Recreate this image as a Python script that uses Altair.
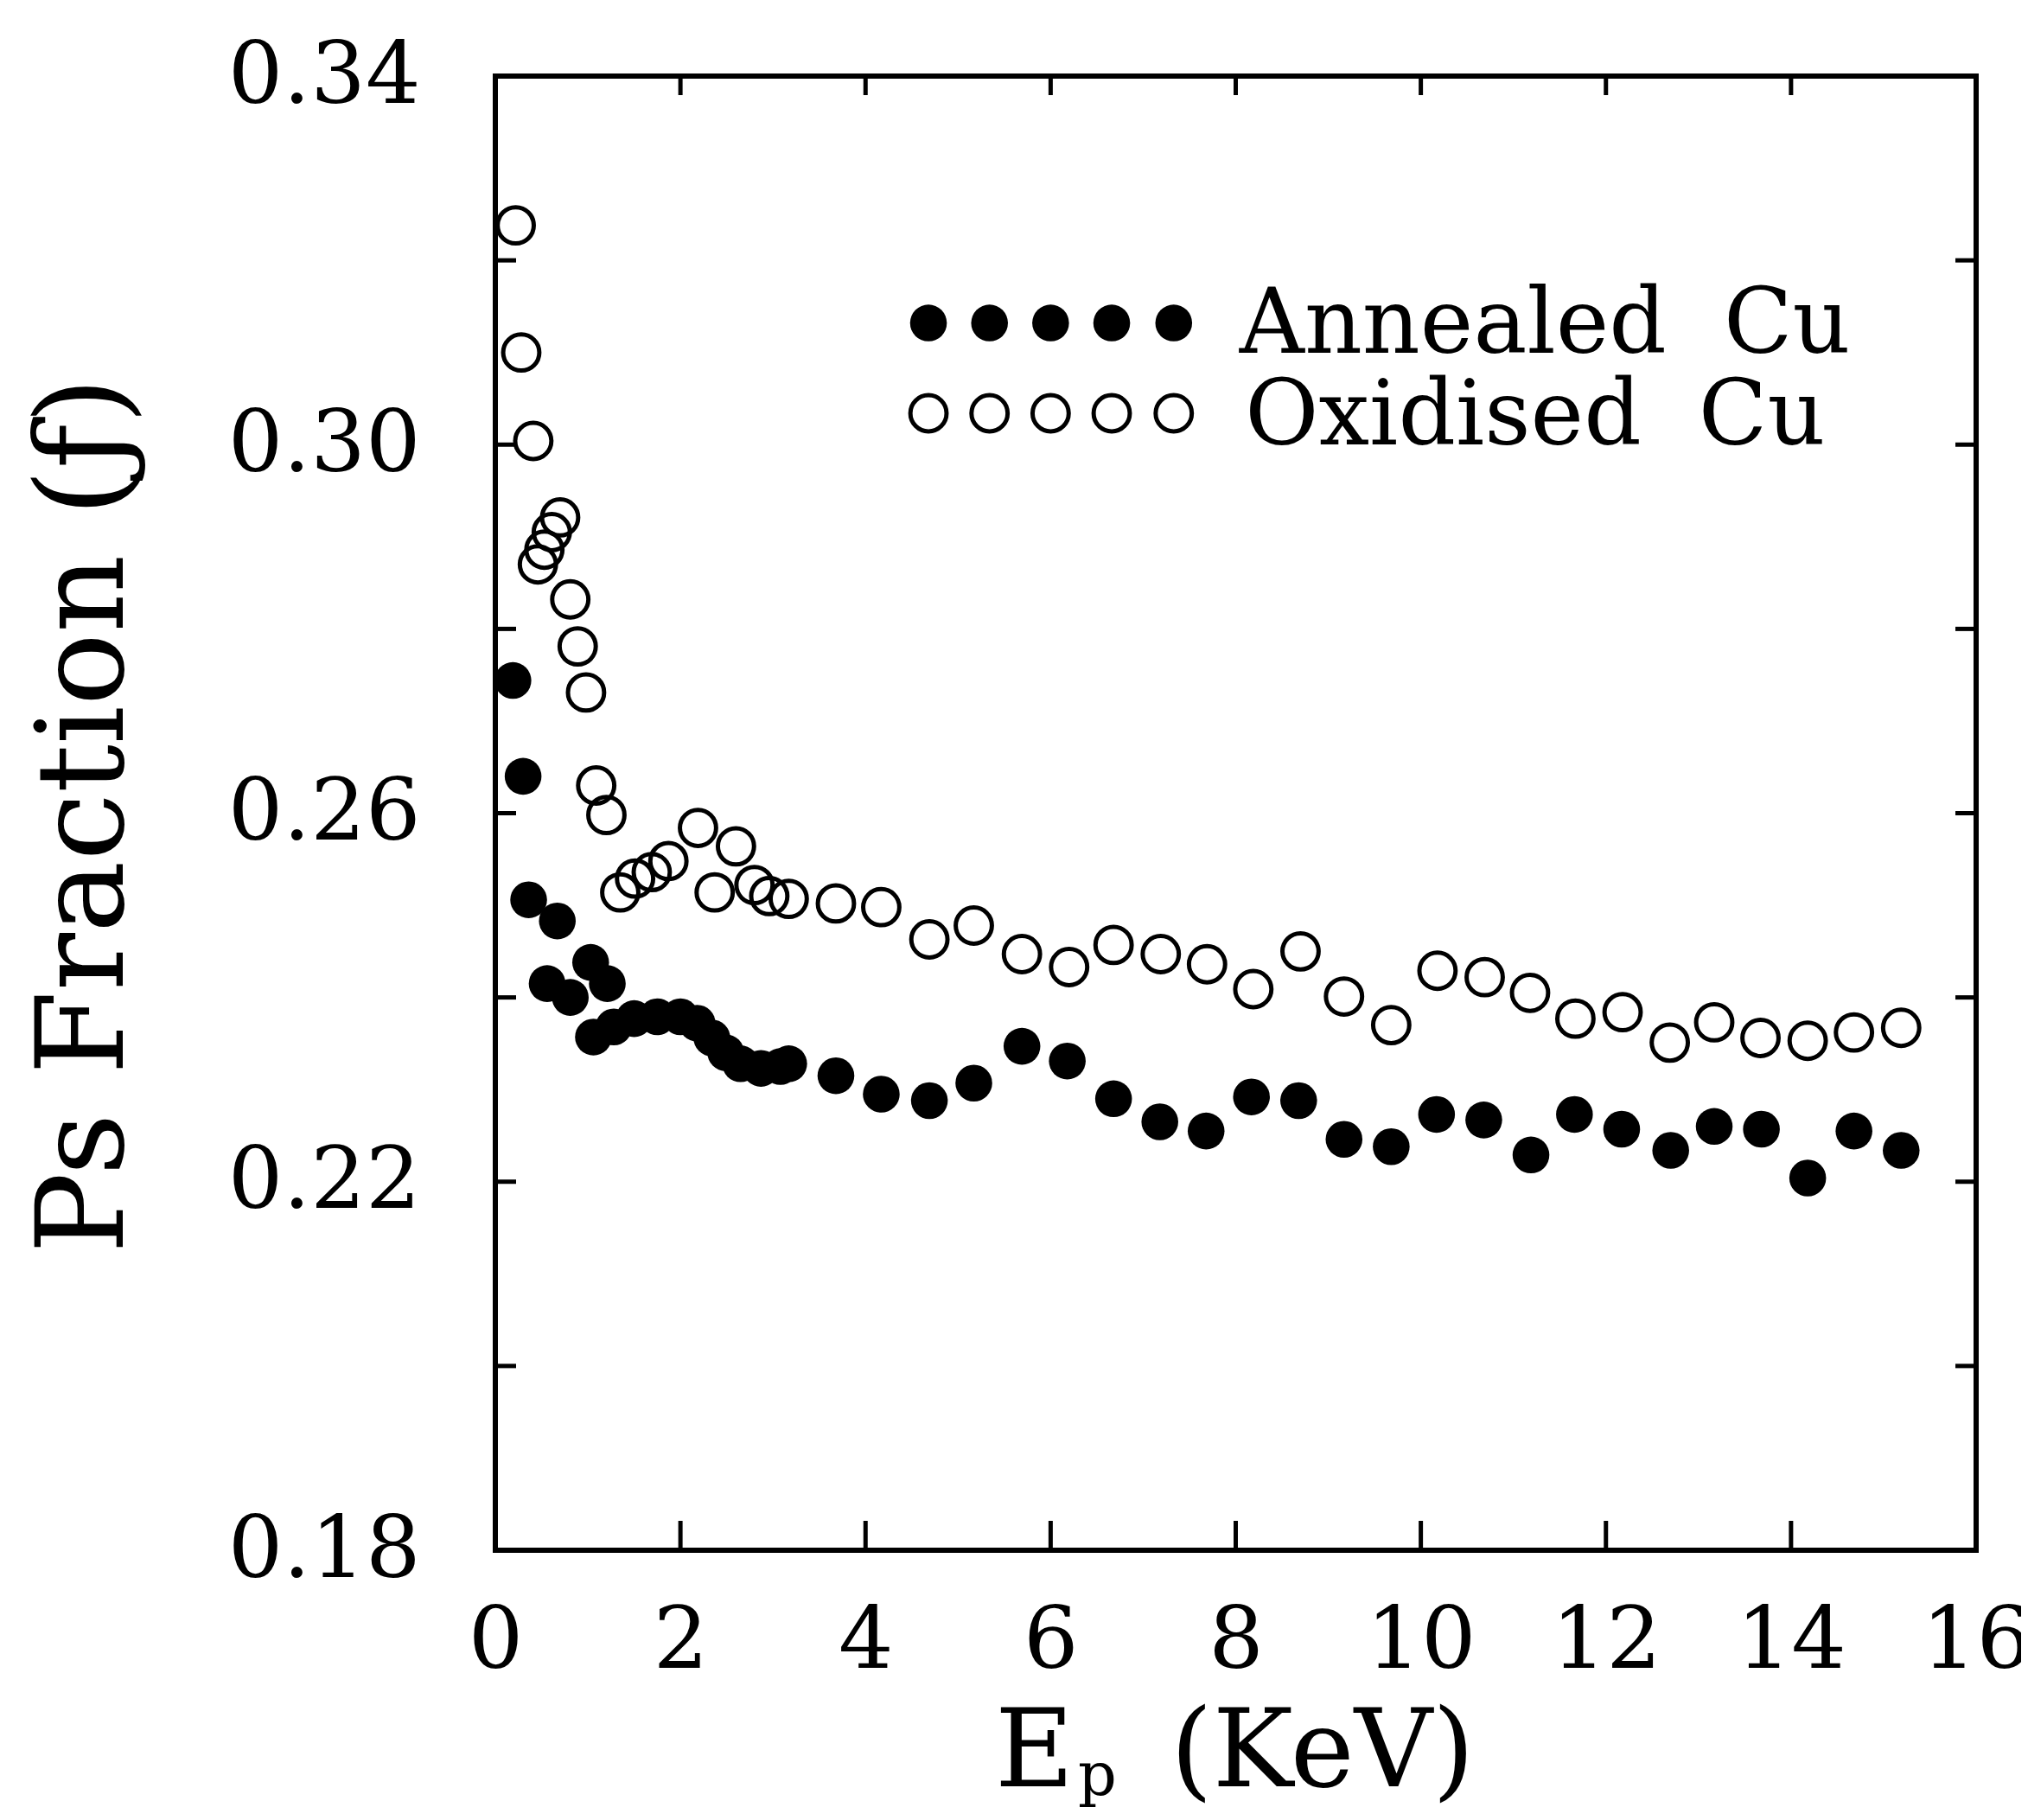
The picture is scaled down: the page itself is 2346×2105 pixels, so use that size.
import altair as alt
import pandas as pd

# ---------------- data ----------------
# Oxidised Cu (open circles)
ox_x = [0.22, 0.28, 0.41, 0.46, 0.53, 0.61, 0.70, 0.81, 0.89, 0.98, 1.09, 1.20,
        1.35, 1.51, 1.69, 1.87, 2.19, 2.37, 2.60, 2.80, 2.96, 3.17, 3.68, 4.17,
        4.69, 5.17, 5.69, 6.20, 6.68, 7.19, 7.69, 8.19, 8.70, 9.17, 9.68, 10.18,
        10.69, 11.18, 11.67, 12.18, 12.69, 13.17, 13.67, 14.18, 14.68, 15.19]
ox_y = [0.3238, 0.3100, 0.3004, 0.2870, 0.2886, 0.2905, 0.2921, 0.2832, 0.2781, 0.2731, 0.2630, 0.2598,
        0.2514, 0.2529, 0.2536, 0.2548, 0.2584, 0.2514, 0.2564, 0.2522, 0.2510, 0.2507, 0.2502, 0.2498,
        0.2463, 0.2478, 0.2447, 0.2433, 0.2457, 0.2447, 0.2436, 0.2409, 0.2450, 0.2401, 0.2370, 0.2429,
        0.2422, 0.2405, 0.2377, 0.2384, 0.2351, 0.2373, 0.2356, 0.2353, 0.2362, 0.2367]

# Annealed Cu (filled circles)
an_x = [0.19, 0.30, 0.36, 0.56, 0.67, 0.81, 1.03, 1.21, 1.06, 1.28, 1.50, 1.75,
        2.00, 2.18, 2.34, 2.49, 2.65, 2.87, 3.08, 3.17, 3.68, 4.17, 4.69, 5.17,
        5.69, 6.18, 6.68, 7.18, 7.68, 8.17, 8.68, 9.17, 9.68, 10.17, 10.68, 11.19,
        11.66, 12.17, 12.70, 13.17, 13.68, 14.18, 14.68, 15.19]
an_y = [0.2744, 0.2640, 0.2506, 0.2415, 0.2483, 0.2400, 0.2438, 0.2415, 0.2357, 0.2368, 0.2377, 0.2379,
        0.2379, 0.2372, 0.2356, 0.2340, 0.2328, 0.2323, 0.2325, 0.2328, 0.2315, 0.2295, 0.2288, 0.2307,
        0.2347, 0.2331, 0.2290, 0.2265, 0.2255, 0.2292, 0.2288, 0.2246, 0.2238, 0.2273, 0.2267, 0.2229,
        0.2273, 0.2257, 0.2234, 0.2260, 0.2257, 0.2204, 0.2255, 0.2234]

x_label_values = [0, 2, 4, 6, 8, 10, 12, 14, 16]
y_label_values = [0.18, 0.22, 0.26, 0.30, 0.34]
x_tick_values = [2, 4, 6, 8, 10, 12, 14]
y_tick_values = [0.20, 0.22, 0.24, 0.26, 0.28, 0.30, 0.32]

legend_labels = ["Annealed\u00a0\u00a0Cu", "Oxidised\u00a0\u00a0Cu"]
legend_marker_x = [4.68, 5.34, 6.00, 6.66, 7.33]
legend_marker_y = [0.3132, 0.3034]
legend_text_x = [8.04, 8.10]
legend_text_y = [0.3100, 0.3000]

y_title = "Ps Fraction (ƒ)"
x_title_main = "E"
x_title_sub = "p"
x_title_unit = "(KeV)"

# ---------------- chart ----------------
W, H = 1713, 1705
FONT = "DejaVu Serif"
xs = alt.Scale(domain=[0, 16], nice=False, zero=False)
ys = alt.Scale(domain=[0.18, 0.34], nice=False, zero=False)

ox = pd.DataFrame({"x": ox_x, "y": ox_y})
an = pd.DataFrame({"x": an_x, "y": an_y})

xaxis = alt.Axis(values=x_label_values, format="d", title=None, ticks=False, domain=False,
                 grid=False, labelFont=FONT, labelFontSize=100, labelPadding=56,
                 labelColor="black", labelFlush=False, labelLimit=0, labelOverlap=False)
yaxis = alt.Axis(values=y_label_values, format=".2f", title=None, ticks=False, domain=False,
                 grid=False, labelFont=FONT, labelFontSize=100, labelPadding=87,
                 labelColor="black", labelFlush=False, labelLimit=0, labelOverlap=False)

OPEN_SIZE = 1750
FILL_SIZE = 1810

open_pts = alt.Chart(ox).mark_point(shape="circle", filled=False, size=OPEN_SIZE, strokeWidth=5,
                                    color="black", opacity=1).encode(
    x=alt.X("x:Q", scale=xs, axis=xaxis),
    y=alt.Y("y:Q", scale=ys, axis=yaxis),
)
filled_pts = alt.Chart(an).mark_point(shape="circle", filled=True, size=FILL_SIZE,
                                      color="black", opacity=1).encode(
    x=alt.X("x:Q", scale=xs), y=alt.Y("y:Q", scale=ys))

# inward ticks on all four sides
xt = pd.DataFrame({"v": x_tick_values})
yt = pd.DataFrame({"v": y_tick_values})
tick_bottom = alt.Chart(xt).mark_rule(color="black", strokeWidth=5).encode(
    x=alt.X("v:Q", scale=xs), y=alt.value(H), y2=alt.value(H - 34))
tick_top = alt.Chart(xt).mark_rule(color="black", strokeWidth=5).encode(
    x=alt.X("v:Q", scale=xs), y=alt.value(0), y2=alt.value(22))
tick_left = alt.Chart(yt).mark_rule(color="black", strokeWidth=5).encode(
    y=alt.Y("v:Q", scale=ys), x=alt.value(0), x2=alt.value(24))
tick_right = alt.Chart(yt).mark_rule(color="black", strokeWidth=5).encode(
    y=alt.Y("v:Q", scale=ys), x=alt.value(W), x2=alt.value(W - 24))

# legend drawn inside the plot
leg_filled = pd.DataFrame({"x": legend_marker_x, "y": [legend_marker_y[0]] * len(legend_marker_x)})
leg_open = pd.DataFrame({"x": legend_marker_x, "y": [legend_marker_y[1]] * len(legend_marker_x)})
leg_text = pd.DataFrame({"x": legend_text_x, "y": legend_text_y, "t": legend_labels})
leg_f = alt.Chart(leg_filled).mark_point(shape="circle", filled=True, size=FILL_SIZE, color="black",
                                         opacity=1).encode(x=alt.X("x:Q", scale=xs), y=alt.Y("y:Q", scale=ys))
leg_o = alt.Chart(leg_open).mark_point(shape="circle", filled=False, size=OPEN_SIZE, strokeWidth=5,
                                       color="black", opacity=1).encode(x=alt.X("x:Q", scale=xs), y=alt.Y("y:Q", scale=ys))
leg_t = alt.Chart(leg_text).mark_text(font=FONT, fontSize=104, align="left",
                                      baseline="alphabetic", color="black").encode(
    x=alt.X("x:Q", scale=xs), y=alt.Y("y:Q", scale=ys), text="t:N")

# axis titles
yt_df = pd.DataFrame({"t": [y_title]})
y_title_mark = alt.Chart(yt_df).mark_text(font=FONT, fontSize=140, angle=270,
                                          align="center", baseline="middle", color="black").encode(
    x=alt.value(-473), y=alt.value(855), text="t:N")
xt1 = alt.Chart(pd.DataFrame({"t": [x_title_main]})).mark_text(
    font=FONT, fontSize=125, align="left", baseline="alphabetic", color="black").encode(
    x=alt.value(578), y=alt.value(1978), text="t:N")
xt2 = alt.Chart(pd.DataFrame({"t": [x_title_sub]})).mark_text(
    font=FONT, fontSize=70, align="left", baseline="alphabetic", color="black").encode(
    x=alt.value(674), y=alt.value(1988), text="t:N")
xt3 = alt.Chart(pd.DataFrame({"t": [x_title_unit]})).mark_text(
    font=FONT, fontSize=125, align="left", baseline="alphabetic", color="black").encode(
    x=alt.value(781), y=alt.value(1978), text="t:N")

chart = alt.layer(
    open_pts, filled_pts, tick_bottom, tick_top, tick_left, tick_right,
    leg_f, leg_o, leg_t, y_title_mark, xt1, xt2, xt3
).properties(
    width=W, height=H,
    autosize=alt.AutoSizeParams(type="none"),
    padding={"left": 565, "top": 80, "right": 52, "bottom": 300},
    background="white",
).configure_view(stroke="black", strokeWidth=6)

chart.save("out.html", embed_options={"renderer": "svg", "actions": False})
